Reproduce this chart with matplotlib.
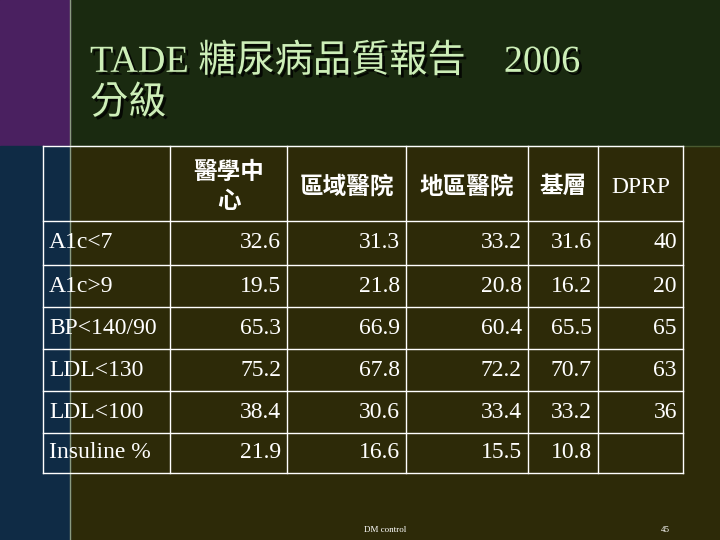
import matplotlib
matplotlib.use("Agg")
import matplotlib.pyplot as plt
from matplotlib.patches import Rectangle
import matplotlib.patheffects as pe

title1 = "TADE 糖尿病品質報告　2006"
title2 = "分級"
columns = ["醫學中\n心", "區域醫院", "地區醫院", "基層", "DPRP"]
rows = ["A1c<7", "A1c>9", "BP<140/90", "LDL<130", "LDL<100", "Insuline %"]
values = [
    ["32.6", "31.3", "33.2", "31.6", "40"],
    ["19.5", "21.8", "20.8", "16.2", "20"],
    ["65.3", "66.9", "60.4", "65.5", "65"],
    ["75.2", "67.8", "72.2", "70.7", "63"],
    ["38.4", "30.6", "33.4", "33.2", "36"],
    ["21.9", "16.6", "15.5", "10.8", ""],
]
footer = "DM control"
page = "45"

fam = ["Liberation Serif", "Noto Sans CJK TC", "DejaVu Sans"]
W, H = 720, 540
fig = plt.figure(figsize=(7.2, 5.4), dpi=100)
ax = fig.add_axes([0, 0, 1, 1])
ax.set_xlim(0, W); ax.set_ylim(H, 0); ax.axis("off")

ax.add_patch(Rectangle((0, 0), W, H, color="#2d2a08"))
ax.add_patch(Rectangle((70, 0), W - 70, 146, color="#1a2a10"))
ax.add_patch(Rectangle((0, 0), 70, 146, color="#4a2060"))
ax.add_patch(Rectangle((0, 146), 70, H - 146, color="#0f2b45"))
ax.plot([70, 70], [0, H], color="#8a9a80", lw=1)
ax.plot([70, W], [146, 146], color="#4a5a30", lw=1)

sh = [pe.withSimplePatchShadow(offset=(2, -2), shadow_rgbFace="#000000", alpha=0.8)]
ax.text(90, 62, title1, fontsize=27.5, color="#cdeeb8", family=fam, va="center", path_effects=sh)
ax.text(90, 104, title2, fontsize=27.5, color="#cdeeb8", family=fam, va="center", path_effects=sh)

xs = [43, 170, 287, 406, 528, 598, 683]
ys = [146, 221, 265, 307, 349, 391, 433, 473]
for x in xs:
    ax.plot([x, x], [ys[0], ys[-1]], color="white", lw=1)
for y in ys:
    ax.plot([xs[0], xs[-1]], [y, y], color="white", lw=1)

for j, c in enumerate(columns):
    cx = (xs[j + 1] + xs[j + 2]) / 2
    ax.text(cx, (ys[0] + ys[1]) / 2 + 4, c, fontsize=17, color="white", family=fam,
            ha="center", va="center", linespacing=1.5, fontweight="bold" if c != "DPRP" else "normal")
for i, r in enumerate(rows):
    cy = (ys[i + 1] + ys[i + 2]) / 2
    ax.text(xs[0] + 6, cy, r, fontsize=17, color="white", family=fam, va="center")
    for j, v in enumerate(values[i]):
        ax.text(xs[j + 2] - 6, cy, v, fontsize=17, color="white", family=fam, va="center", ha="right")

ax.text(385, 530, footer, fontsize=6.5, color="white", family=fam, ha="center", va="center")
ax.text(665, 530, page, fontsize=6.5, color="white", family=fam, ha="center", va="center")

fig.savefig("out.png", dpi=100)
